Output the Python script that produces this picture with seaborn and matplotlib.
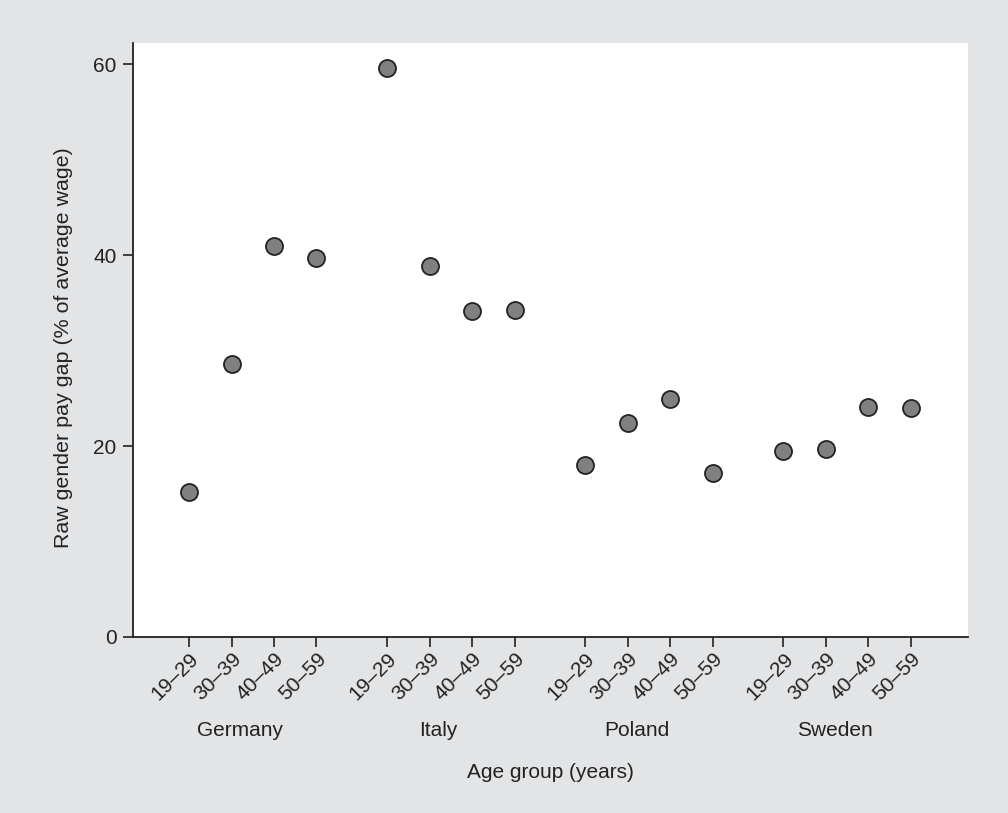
import numpy as np
import pandas as pd
import seaborn as sns
import matplotlib.pyplot as plt
import matplotlib.transforms as mtransforms

countries = ['Germany', 'Italy', 'Poland', 'Sweden']
ages = ['19–29', '30–39', '40–49', '50–59']
germany = [15.2, 28.6, 41.0, 39.7]
italy = [59.6, 38.9, 34.1, 34.2]
poland = [18.0, 22.4, 24.9, 17.2]
sweden = [19.5, 19.7, 24.1, 24.0]

# positions: 4 per group, gap between groups
gap = 5 / 3
rows = []
for g, (c, vals) in enumerate(zip(countries, [germany, italy, poland, sweden])):
    for i, (a, v) in enumerate(zip(ages, vals)):
        rows.append({'country': c, 'age': a, 'x': g * (3 + gap) + i, 'gap': v})
df = pd.DataFrame(rows)

sns.set_style('ticks')
plt.rcParams['font.family'] = ['Liberation Sans', 'DejaVu Sans']

bg = '#e3e4e6'
ink = '#222222'
fs = 15
fig = plt.figure(figsize=(10.08, 8.13), dpi=100, facecolor=bg)
ax = fig.add_axes([0.132, 0.2165, 0.828, 0.7305])
ax.set_facecolor('white')

sns.scatterplot(data=df, x='x', y='gap', ax=ax, s=150, color='#808080',
                edgecolor=ink, linewidth=1.3, zorder=3, legend=False)

ax.set_xlim(-1.32, 18.34)
ax.set_ylim(0, 62.2)
ax.set_yticks([0, 20, 40, 60])
ax.set_xticks(df['x'])
ax.set_xticklabels(df['age'], rotation=45, ha='right', rotation_mode='anchor')
ax.tick_params(axis='both', labelsize=fs, length=7, width=1.2, color=ink,
               labelcolor=ink, direction='out', pad=5)
ax.tick_params(axis='x', pad=2)
for sp in ['top', 'right']:
    ax.spines[sp].set_visible(False)
for sp in ['left', 'bottom']:
    ax.spines[sp].set_linewidth(1.3)
    ax.spines[sp].set_color(ink)

trans = mtransforms.blended_transform_factory(ax.transData, ax.transAxes)
for c in countries:
    cx = df.loc[df['country'] == c, 'x'].mean() - 0.29
    ax.text(cx, -0.157, c, transform=trans, ha='center', va='center',
            fontsize=fs, color=ink)

ax.set_xlabel('')
ax.set_ylabel('Raw gender pay gap (% of average wage)', fontsize=15.4,
              color=ink)
ax.yaxis.set_label_coords(-0.072, 0.487)
ax.text(0.5, -0.228, 'Age group (years)', transform=ax.transAxes,
        ha='center', va='center', fontsize=fs, color=ink)

fig.savefig('out.png', dpi=100, facecolor=bg)
